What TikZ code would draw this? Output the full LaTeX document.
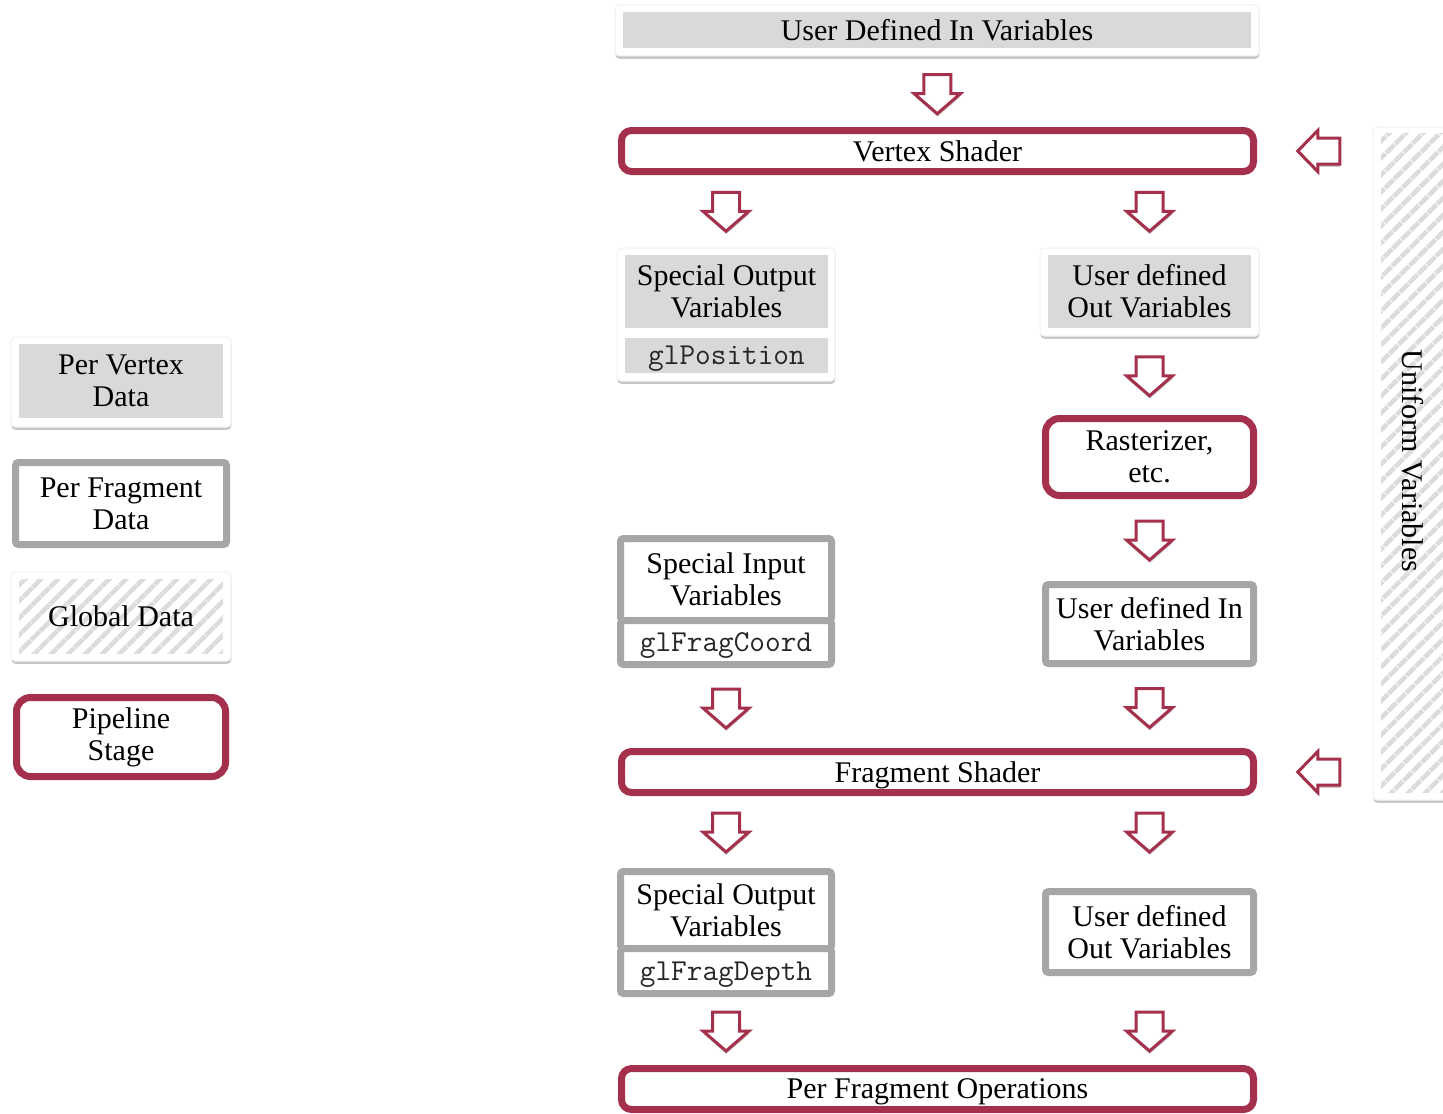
\documentclass[tikz,border=0pt]{standalone}
\usepackage{fontspec}
\setmainfont{Liberation Serif}
\usetikzlibrary{calc,shadows,patterns.meta}
\definecolor{crim}{HTML}{A5304B}
\definecolor{lgray}{HTML}{D9D9D9}
\definecolor{mgray}{HTML}{A6A6A6}
\definecolor{stripecol}{HTML}{DCDCDC}
\tikzset{
  shd/.style={drop shadow={shadow xshift=0.2pt, shadow yshift=-1.4pt, opacity=0.22, fill=black}},
  txt/.style={inner sep=0pt, align=center, font=\fontsize{15}{16}\selectfont, text=black},
  card/.style={txt, fill=white, draw=black!6, line width=0.5pt, rounded corners=2pt, shd},
  grayfill/.style={txt, fill=lgray},
  stage/.style={txt, draw=crim, line width=3.5pt, fill=white, rounded corners=5pt, shd},
  graybox/.style={txt, draw=mgray, line width=3.5pt, fill=white, rounded corners=1.5pt, shd},
  hatched/.style={txt, pattern={Lines[angle=45,distance=6.5pt,line width=2.5pt]}, pattern color=stripecol},
  blockarrow/.style={draw=crim, line width=1.5pt, fill=white, line join=miter, shd},
  codetext/.style={font=\fontsize{15.2}{16}\selectfont\ttfamily, text=black!85, text depth=0pt},
  oneline/.style={text depth=0pt},
  dnarrow/.pic={\draw[blockarrow] (-13.5,-19) -- (13.5,-19) -- (13.5,0) -- (23,0) -- (0,20) -- (-23,0) -- (-13.5,0) -- cycle;},
  ltarrow/.pic={\draw[blockarrow] (22,-13) -- (22,13) -- (0,13) -- (0,20.5) -- (-20,0) -- (0,-20.5) -- (0,-13) -- cycle;},
}
\begin{document}
\begin{tikzpicture}[x=0.5pt,y=-0.5pt]
\clip (0,0) rectangle (1443,1113);
\fill[white] (0,0) rectangle (1443,1113);

% ---------- legend ----------
\node[card, minimum width=110pt, minimum height=45pt] (lvc) at (121,382) {};
\node[grayfill, minimum width=102pt, minimum height=37pt] (lv) at (121,381) {Per Vertex\\Data};
\node[graybox, minimum width=105.5pt, minimum height=41pt] (lf) at (121,503.5) {Per Fragment\\Data};
\node[card, minimum width=110pt, minimum height=44.5pt] (lgc) at (121,616.5) {};
\node[hatched, minimum width=102pt, minimum height=37pt] (lg) at (121,616) {Global Data};
\node[stage, rounded corners=7pt, minimum width=104.5pt, minimum height=39.5pt] (lp) at (121,737) {Pipeline\\Stage};

% ---------- uniform ----------
\node[card, minimum width=48.5pt, minimum height=336.5pt] (unic) at (1421.5,463.5) {};
\node[hatched, minimum width=40.5pt, minimum height=329.5pt] (uni) at (1421.5,462.5) {};
\node[txt, rotate=-90] (unit) at (1413,461) {Uniform Variables};

% ---------- top ----------
\node[card, minimum width=322pt, minimum height=25.5pt] (udic) at (937,30.5) {};
\node[grayfill, minimum width=314pt, minimum height=18pt] (udi) at (937,30) {User Defined In Variables};

\node[stage, oneline, minimum width=316pt, minimum height=20.5pt] (vs) at (937.5,151) {Vertex Shader};

% vertex outputs
\node[card, minimum width=109pt, minimum height=66.5pt] (svoc) at (726,314.5) {};
\node[grayfill, minimum width=101.5pt, minimum height=36.5pt] (svo) at (726.5,291.5) {Special Output\\Variables};
\node[grayfill, minimum width=101.5pt, minimum height=17.5pt, codetext] (glpos) at (726.5,355.5) {glPosition};

\node[card, minimum width=109.5pt, minimum height=44pt] (uvoc) at (1149.5,292) {};
\node[grayfill, minimum width=101.5pt, minimum height=36.5pt] (uvo) at (1149.5,291.5) {User defined\\Out Variables};

\node[stage, rounded corners=7pt, minimum width=104pt, minimum height=38.5pt] (rast) at (1149.5,457) {Rasterizer,\\etc.};

% fragment inputs
\node[graybox, minimum width=105.5pt, minimum height=41pt] (sii) at (726,579.5) {Special Input\\Variables};
\node[graybox, minimum width=105.5pt, minimum height=22pt, codetext] (glfc) at (726,642.5) {glFragCoord};
\node[graybox, minimum width=104pt, minimum height=39.5pt] (ufi) at (1149.5,624) {User defined In\\Variables};

\node[stage, oneline, minimum width=316pt, minimum height=20.5pt] (fs) at (937.5,772) {Fragment Shader};

% fragment outputs
\node[graybox, minimum width=105.5pt, minimum height=38.5pt] (sfo) at (726,910) {Special Output\\Variables};
\node[graybox, minimum width=105.5pt, minimum height=22.5pt, codetext] (glfd) at (726,971) {glFragDepth};
\node[graybox, minimum width=104pt, minimum height=40.5pt] (ufo) at (1149.5,932) {User defined\\Out Variables};

\node[stage, oneline, minimum width=316pt, minimum height=20.5pt] (pfo) at (937.5,1089) {Per Fragment Operations};

% ---------- block arrows ----------
\pic at ($(udic.south)!0.5!(vs.north)+(0,2)$) {dnarrow};
\pic at ($(vs.south -| svoc)!0.5!(svoc.north)$) {dnarrow};
\pic at ($(vs.south -| uvoc)!0.5!(uvoc.north)$) {dnarrow};
\pic at ($(uvoc.south)!0.5!(rast.north)$) {dnarrow};
\pic at ($(rast.south)!0.5!(ufi.north)$) {dnarrow};
\pic at ($(glfc.south)!0.5!(fs.north -| glfc)$) {dnarrow};
\pic at ($(ufi.south)!0.5!(fs.north -| ufi)$) {dnarrow};
\pic at ($(fs.south -| sfo)!0.5!(sfo.north)$) {dnarrow};
\pic at ($(fs.south -| ufo)!0.5!(sfo.north -| ufo)$) {dnarrow};
\pic at ($(glfd.south)!0.5!(pfo.north -| glfd)$) {dnarrow};
\pic at ($(glfd.south -| ufo)!0.5!(pfo.north -| ufo)$) {dnarrow};
\pic at ($(vs.east)!0.5!(vs.east -| unic.west)+(3,0)$) {ltarrow};
\pic at ($(fs.east)!0.5!(fs.east -| unic.west)+(3,0)$) {ltarrow};
\end{tikzpicture}
\end{document}
